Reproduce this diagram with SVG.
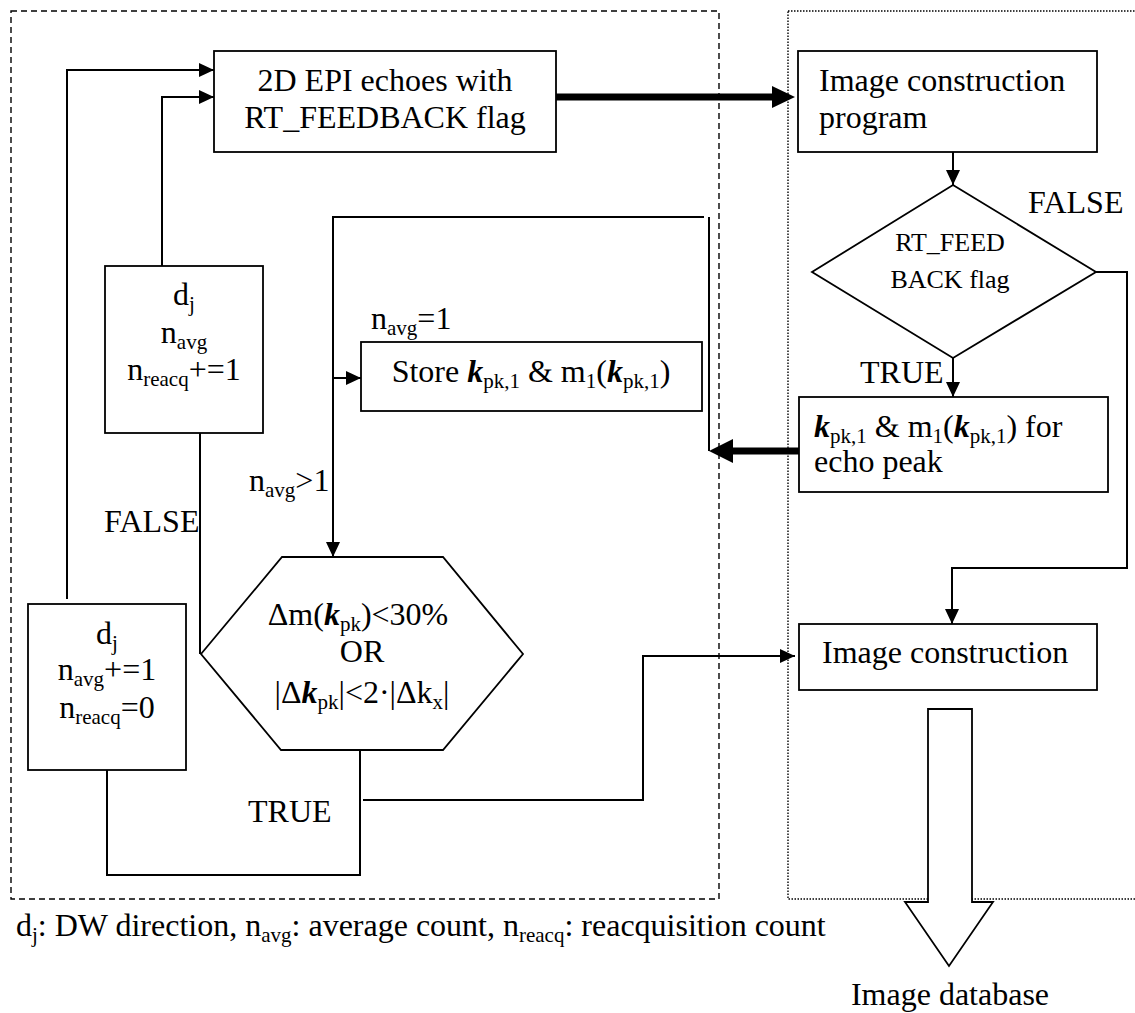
<svg xmlns="http://www.w3.org/2000/svg" width="1135" height="1013" viewBox="0 0 1135 1013">
<style>
text{font-family:"Liberation Serif","Times New Roman",serif;font-size:32px;fill:#000}
.m{text-anchor:middle}
.s{font-size:21px}
.k{font-weight:bold;font-style:italic}
.box{fill:#fff;stroke:#000;stroke-width:1.8}
.c{fill:none;stroke:#000;stroke-width:2}
.thick{fill:none;stroke:#000;stroke-width:7}
.dg{font-size:26px}
</style>
<defs>
<marker id="ah" markerUnits="userSpaceOnUse" markerWidth="16" markerHeight="16" refX="15" refY="7" orient="auto">
<path d="M0,0 L15,7 L0,14 z" fill="#000"/>
</marker>
</defs>
<rect x="11" y="11" width="708" height="888" fill="none" stroke="#000" stroke-width="1.4" stroke-dasharray="6 4"/>
<rect x="788" y="11" width="400" height="888" fill="none" stroke="#000" stroke-width="1.4" stroke-dasharray="1.5 1.5"/>
<g id="connectors">
<path class="c" d="M67,599 V70 H214" marker-end="url(#ah)"/>
<path class="c" d="M162,266 V97 H214" marker-end="url(#ah)"/>
<path class="c" d="M200,433 V654"/>
<path class="c" d="M704,217 H333 V557" marker-end="url(#ah)"/>
<path class="c" d="M333,378 H361" marker-end="url(#ah)"/>
<path class="c" d="M709,217 V451"/>
<path class="thick" d="M556,97 H776"/>
<polygon points="772,86 795,97 772,108" fill="#000"/>
<path class="thick" d="M799,451 H728"/>
<polygon points="733,439 709,451 733,463" fill="#000"/>
<path class="c" d="M953,152 V185" marker-end="url(#ah)"/>
<path class="c" d="M953,358 V397" marker-end="url(#ah)"/>
<path class="c" d="M1096,272 H1127 V568 H952 V624" marker-end="url(#ah)"/>
<path class="c" d="M363,800 H643 V656 H795" marker-end="url(#ah)"/>
<path class="c" d="M360,750 V875 H107 V770"/>
</g>
<g id="n-epi">
<rect class="box" x="214" y="51" width="342" height="101"/>
<text class="m" x="385" y="91">2D EPI echoes with</text>
<text class="m" x="385" y="128">RT_FEEDBACK flag</text>
</g>
<g id="n-icp">
<rect class="box" x="798" y="51" width="299" height="101"/>
<text x="819" y="91">Image construction</text>
<text x="819" y="128">program</text>
</g>
<g id="n-flag">
<polygon class="box" points="953,185 1096,272 953,358 812,272"/>
<text class="m dg" x="950" y="251">RT_FEED</text>
<text class="m dg" x="950" y="288">BACK flag</text>
<text x="1028" y="213">FALSE</text>
<text x="860" y="383">TRUE</text>
</g>
<g id="n-reacq">
<rect class="box" x="105" y="266" width="158" height="167"/>
<text class="m" x="184" y="305">d<tspan class="s" dy="6">j</tspan></text>
<text class="m" x="184" y="343">n<tspan class="s" dy="6">avg</tspan></text>
<text class="m" x="184" y="380">n<tspan class="s" dy="6">reacq</tspan><tspan dy="-6">+=1</tspan></text>
<text x="104" y="532">FALSE</text>
</g>
<g id="n-avg">
<rect class="box" x="28" y="604" width="158" height="166"/>
<text class="m" x="107" y="644">d<tspan class="s" dy="6">j</tspan></text>
<text class="m" x="107" y="680">n<tspan class="s" dy="6">avg</tspan><tspan dy="-6">+=1</tspan></text>
<text class="m" x="107" y="718">n<tspan class="s" dy="6">reacq</tspan><tspan dy="-6">=0</tspan></text>
</g>
<g id="n-store">
<rect class="box" x="361" y="342" width="341" height="69"/>
<text class="m" x="531" y="382">Store <tspan class="k">k</tspan><tspan class="s" dy="6">pk,1</tspan><tspan dy="-6"> &amp; m</tspan><tspan class="s" dy="6">1</tspan><tspan dy="-6">(</tspan><tspan class="k">k</tspan><tspan class="s" dy="6">pk,1</tspan><tspan dy="-6">)</tspan></text>
<text x="371" y="329">n<tspan class="s" dy="6">avg</tspan><tspan dy="-6">=1</tspan></text>
<text x="249" y="491">n<tspan class="s" dy="6">avg</tspan><tspan dy="-6">&gt;1</tspan></text>
</g>
<g id="n-kpk">
<rect class="box" x="799" y="397" width="309" height="95"/>
<text x="814" y="437"><tspan class="k">k</tspan><tspan class="s" dy="6">pk,1</tspan><tspan dy="-6"> &amp; m</tspan><tspan class="s" dy="6">1</tspan><tspan dy="-6">(</tspan><tspan class="k">k</tspan><tspan class="s" dy="6">pk,1</tspan><tspan dy="-6">) for</tspan></text>
<text x="814" y="472">echo peak</text>
</g>
<g id="n-check">
<polygon class="box" points="201,654 282,557 443,557 523,654 443,750 281,750"/>
<text class="m" x="358" y="625">Δm(<tspan class="k">k</tspan><tspan class="s" dy="6">pk</tspan><tspan dy="-6">)&lt;30%</tspan></text>
<text class="m" x="362" y="662">OR</text>
<text class="m" x="362" y="703">|Δ<tspan class="k">k</tspan><tspan class="s" dy="6">pk</tspan><tspan dy="-6">|&lt;2·|Δk</tspan><tspan class="s" dy="6">x</tspan><tspan dy="-6">|</tspan></text>
<text x="248" y="822">TRUE</text>
</g>
<g id="n-ic">
<rect class="box" x="799" y="624" width="298" height="66"/>
<text x="822" y="663">Image construction</text>
</g>
<g id="n-db">
<polygon class="box" points="928,709 972,709 972,902 993,902 949,966 905,902 928,902"/>
<text class="m" x="950" y="1005">Image database</text>
</g>
<text x="16" y="936">d<tspan class="s" dy="6">j</tspan><tspan dy="-6">: DW direction, n</tspan><tspan class="s" dy="6">avg</tspan><tspan dy="-6">: average count, n</tspan><tspan class="s" dy="6">reacq</tspan><tspan dy="-6">: reacquisition count</tspan></text>
</svg>
